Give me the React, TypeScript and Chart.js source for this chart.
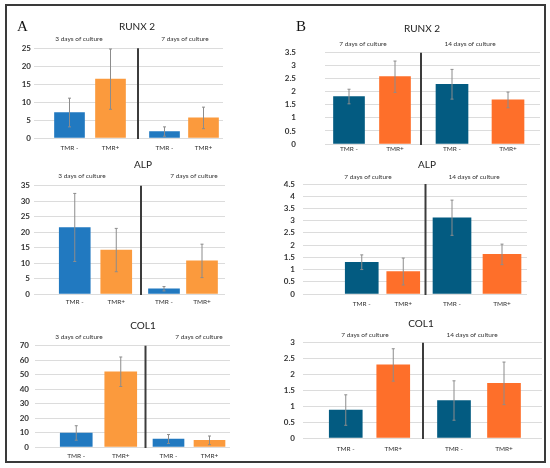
import { useEffect, useRef } from 'react';
import { Chart, registerables } from 'chart.js';

Chart.register(...registerables);

// x labels for each culture-time group
const groupLabels = ['TMR -', 'TMR+'];

// Panel A: 3 and 7 days
const daysA = ['3 days of culture', '7 days of culture'];
const runx2AMean = [7.1, 16.4, 1.8, 5.6];
const runx2AErr = [4.0, 8.4, 1.3, 3.0];
const runx2ATicks = [0, 5, 10, 15, 20, 25];

const alpAMean = [21.5, 14.2, 1.7, 10.7];
const alpAErr = [11.0, 7.0, 0.7, 5.4];
const alpATicks = [0, 5, 10, 15, 20, 25, 30, 35];

const col1AMean = [9.7, 52.0, 5.5, 4.6];
const col1AErr = [5.0, 10.2, 3.1, 3.0];
const col1ATicks = [0, 10, 20, 30, 40, 50, 60, 70];

// Panel B: 7 and 14 days
const daysB = ['7 days of culture', '14 days of culture'];
const runx2BMean = [1.82, 2.58, 2.29, 1.69];
const runx2BErr = [0.28, 0.6, 0.57, 0.3];
const runx2BTicks = [0, 0.5, 1, 1.5, 2, 2.5, 3, 3.5];

const alpBMean = [1.3, 0.92, 3.12, 1.62];
const alpBErr = [0.3, 0.55, 0.72, 0.42];
const alpBTicks = [0, 0.5, 1, 1.5, 2, 2.5, 3, 3.5, 4, 4.5];

const col1BMean = [0.88, 2.3, 1.18, 1.72];
const col1BErr = [0.48, 0.51, 0.62, 0.67];
const col1BTicks = [0, 0.5, 1, 1.5, 2, 2.5, 3];

const FONT = 'Lato, "Open Sans", sans-serif';
const colorsA = ['#2179c0', '#fb9a3d'];
const colorsB = ['#035b81', '#fe6f2a'];

interface Layout {
  x0: number;
  gridL: number;
  gridR: number;
  top: number;
  bottom: number;
  spans: number[]; // padL, left group, gap, right group, padR
  bars: number[];
  yPad: number;
  xPad: number;
  titleX: number;
  titleY: number;
  subX: number[];
  subY: number;
}

interface PanelProps {
  title: string;
  days: string[];
  mean: number[];
  err: number[];
  ticks: number[];
  colors: string[];
  layout: Layout;
}

const TOP_ROOM = 34;
const X_AXIS_H = 16;

function Panel({ title, days, mean, err, ticks, colors, layout }: PanelProps) {
  const canvasRef = useRef<HTMLCanvasElement | null>(null);
  const chartRef = useRef<Chart | null>(null);

  const canvasTop = Math.floor(layout.top - TOP_ROOM);
  const width = Math.round(layout.gridR + 4 - layout.x0);
  const height = Math.round(layout.bottom + X_AXIS_H - canvasTop);
  const topPad = layout.top - canvasTop;

  useEffect(() => {
    if (!canvasRef.current) return;
    if (chartRef.current) chartRef.current.destroy();

    const ids = ['padL', 'x1', 'gap', 'x2', 'padR'];
    const scales: any = {};
    ids.forEach((id, i) => {
      const w = layout.spans[i];
      if (!w) return;
      const isGroup = id === 'x1' || id === 'x2';
      scales[id] = {
        type: 'category',
        axis: 'x',
        position: 'bottom',
        stack: 'groups',
        stackWeight: w,
        labels: isGroup ? groupLabels : [''],
        offset: true,
        grid: { display: false, drawTicks: false },
        border: { display: false },
        ticks: {
          display: isGroup,
          padding: layout.xPad,
          maxRotation: 0,
          autoSkip: false,
          color: '#333',
          font: { family: FONT, size: 6.5 }
        },
        afterFit: (s: any) => {
          s.height = X_AXIS_H;
          s.paddingLeft = 0;
          s.paddingRight = 0;
        }
      };
    });
    scales.y = {
      min: 0,
      max: ticks[ticks.length - 1],
      afterBuildTicks: (s: any) => { s.ticks = ticks.map(v => ({ value: v })); },
      grid: { color: '#dcdcdc', lineWidth: 1, drawTicks: false },
      border: { display: false },
      ticks: {
        padding: layout.yPad,
        autoSkip: false,
        color: '#333',
        font: { family: FONT, size: 8, weight: 'bold' },
        callback: (v: any) => String(v)
      },
      afterFit: (s: any) => {
        s.width = layout.gridL - layout.x0;
        s.paddingTop = 4;
        s.paddingBottom = 4;
      }
    };

    const errorBars = {
      id: 'errorBars',
      afterDatasetsDraw(chart: any) {
        const ctx = chart.ctx;
        const y = chart.scales.y;
        ctx.save();
        ctx.strokeStyle = '#8c8c8c';
        ctx.lineWidth = 1;
        chart.data.datasets.forEach((ds: any, i: number) => {
          chart.getDatasetMeta(i).data.forEach((bar: any, j: number) => {
            const m = ds.data[j];
            const e = ds.errors[j];
            const yt = y.getPixelForValue(m + e);
            const yb = y.getPixelForValue(Math.max(0, m - e));
            ctx.beginPath();
            ctx.moveTo(bar.x, yt);
            ctx.lineTo(bar.x, yb);
            ctx.moveTo(bar.x - 1.5, yt);
            ctx.lineTo(bar.x + 1.5, yt);
            ctx.moveTo(bar.x - 1.5, yb);
            ctx.lineTo(bar.x + 1.5, yb);
            ctx.stroke();
          });
        });
        ctx.restore();
      }
    };

    const decorations = {
      id: 'decorations',
      afterDraw(chart: any) {
        const ctx = chart.ctx;
        const area = chart.chartArea;
        const gap = chart.scales.gap;
        const sepX = (gap.left + gap.right) / 2;
        ctx.save();
        ctx.strokeStyle = '#3c3c3c';
        ctx.lineWidth = 2;
        ctx.beginPath();
        ctx.moveTo(sepX, area.top);
        ctx.lineTo(sepX, area.bottom + 1);
        ctx.stroke();

        ctx.textAlign = 'center';
        ctx.textBaseline = 'middle';
        ctx.fillStyle = '#222';
        ctx.font = `10px ${FONT}`;
        ctx.fillText(title, layout.titleX - layout.x0, layout.titleY - canvasTop);
        ctx.fillStyle = '#333';
        ctx.font = `6.5px ${FONT}`;
        days.forEach((d, i) => {
          ctx.fillText(d, layout.subX[i] - layout.x0, layout.subY - canvasTop);
        });
        ctx.restore();
      }
    };

    chartRef.current = new Chart(canvasRef.current, {
      type: 'bar',
      data: {
        datasets: [
          {
            xAxisID: 'x1',
            data: mean.slice(0, 2),
            errors: err.slice(0, 2),
            backgroundColor: colors,
            grouped: false,
            barThickness: layout.bars[0]
          } as any,
          {
            xAxisID: 'x2',
            data: mean.slice(2, 4),
            errors: err.slice(2, 4),
            backgroundColor: colors,
            grouped: false,
            barThickness: layout.bars[1]
          } as any
        ]
      },
      options: {
        animation: false,
        responsive: false,
        events: [],
        layout: { padding: { top: topPad, right: 4, left: 0, bottom: 0 } },
        plugins: { legend: { display: false }, tooltip: { enabled: false } },
        scales
      },
      plugins: [errorBars, decorations]
    });

    return () => {
      if (chartRef.current) {
        chartRef.current.destroy();
        chartRef.current = null;
      }
    };
  }, [title, days, mean, err, ticks, colors, layout, canvasTop, topPad]);

  return (
    <canvas
      ref={canvasRef}
      width={width}
      height={height}
      style={{ position: 'absolute', left: layout.x0, top: canvasTop, width, height }}
    />
  );
}

const layoutA1: Layout = {
  x0: 8, gridL: 34, gridR: 223, top: 48.3, bottom: 138.3,
  spans: [15, 82, 14, 78, 0], bars: [30, 30], yPad: 3, xPad: 6,
  titleX: 137, titleY: 27, subX: [79, 185], subY: 39
};
const layoutA2: Layout = {
  x0: 8, gridL: 34, gridR: 225, top: 185.7, bottom: 294,
  spans: [20, 83, 8, 76, 4], bars: [31, 31], yPad: 4, xPad: 4.5,
  titleX: 143, titleY: 165, subX: [82, 194], subY: 176
};
const layoutA3: Layout = {
  x0: 8, gridL: 35, gridR: 230, top: 345.7, bottom: 446.7,
  spans: [19, 89, 5, 82, 0], bars: [32, 31], yPad: 6, xPad: 5,
  titleX: 143, titleY: 326, subX: [79, 199], subY: 336.5
};
const layoutB1: Layout = {
  x0: 280, gridL: 325, gridR: 540, top: 52.7, bottom: 144.3,
  spans: [1, 92, 6, 112, 4], bars: [31, 32], yPad: 29, xPad: 1.5,
  titleX: 422, titleY: 29, subX: [363, 470], subY: 44
};
const layoutB2: Layout = {
  x0: 280, gridL: 303, gridR: 527, top: 184, bottom: 294,
  spans: [38, 83, 3, 100, 0], bars: [33, 38], yPad: 8, xPad: 6.5,
  titleX: 427, titleY: 165, subX: [368, 474], subY: 177
};
const layoutB3: Layout = {
  x0: 280, gridL: 303, gridR: 542, top: 342.7, bottom: 438.3,
  spans: [19, 95, 12, 100, 13], bars: [33, 33], yPad: 8, xPad: 7,
  titleX: 421, titleY: 324, subX: [365, 472], subY: 335
};

const letterStyle = {
  position: 'absolute' as const,
  fontFamily: '"Liberation Serif", "Times New Roman", serif',
  fontSize: 15,
  lineHeight: 1,
  color: '#111'
};

export default function App() {
  return (
    <div style={{ position: 'fixed', left: 0, top: 0, width: 550, height: 468, background: '#fff', overflow: 'hidden' }}>
      <div
        style={{
          position: 'absolute', left: 5, top: 4, width: 541, height: 459,
          boxSizing: 'border-box', border: '2px solid #3a3a3a'
        }}
      />
      <Panel title="RUNX 2" days={daysA} mean={runx2AMean} err={runx2AErr} ticks={runx2ATicks} colors={colorsA} layout={layoutA1} />
      <Panel title="ALP" days={daysA} mean={alpAMean} err={alpAErr} ticks={alpATicks} colors={colorsA} layout={layoutA2} />
      <Panel title="COL1" days={daysA} mean={col1AMean} err={col1AErr} ticks={col1ATicks} colors={colorsA} layout={layoutA3} />
      <Panel title="RUNX 2" days={daysB} mean={runx2BMean} err={runx2BErr} ticks={runx2BTicks} colors={colorsB} layout={layoutB1} />
      <Panel title="ALP" days={daysB} mean={alpBMean} err={alpBErr} ticks={alpBTicks} colors={colorsB} layout={layoutB2} />
      <Panel title="COL1" days={daysB} mean={col1BMean} err={col1BErr} ticks={col1BTicks} colors={colorsB} layout={layoutB3} />
      <div style={{ ...letterStyle, left: 17, top: 19 }}>A</div>
      <div style={{ ...letterStyle, left: 296, top: 19 }}>B</div>
    </div>
  );
}
